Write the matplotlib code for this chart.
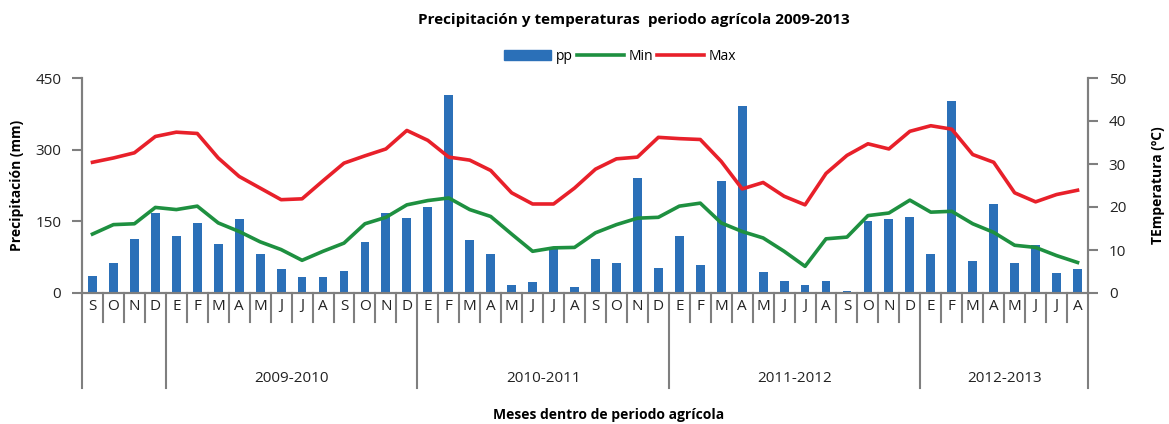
import matplotlib.pyplot as plt
from matplotlib.patches import Rectangle
from matplotlib.lines import Line2D
import matplotlib.transforms as mtransforms
import numpy as np

# meses del periodo agricola (sep 2009 - ago 2013)
months = ['S', 'O', 'N', 'D',
          'E', 'F', 'M', 'A', 'M', 'J', 'J', 'A', 'S', 'O', 'N', 'D',
          'E', 'F', 'M', 'A', 'M', 'J', 'J', 'A', 'S', 'O', 'N', 'D',
          'E', 'F', 'M', 'A', 'M', 'J', 'J', 'A', 'S', 'O', 'N', 'D',
          'E', 'F', 'M', 'A', 'M', 'J', 'J', 'A']
year_labels = ['2009-2010', '2010-2011', '2011-2012', '2012-2013']
year_bounds = [0, 4, 16, 28, 40, 48]

pp = [35, 63, 114, 167, 119, 147, 103, 154, 82, 50, 34, 34,
      47, 106, 167, 157, 179, 414, 111, 82, 17, 23, 93, 12,
      71, 63, 241, 52, 120, 58, 235, 391, 45, 26, 17, 26,
      5, 151, 154, 160, 82, 401, 68, 186, 63, 101, 42, 50]
t_min = [13.7, 15.9, 16.1, 19.9, 19.4, 20.2, 16.3, 14.3, 11.9, 10.1, 7.6, 9.7,
         11.6, 16.1, 17.6, 20.5, 21.5, 22.1, 19.4, 17.8, 13.7, 9.7, 10.5, 10.6,
         14.0, 15.9, 17.4, 17.6, 20.2, 20.9, 16.3, 14.3, 12.8, 9.7, 6.2, 12.6,
         13.0, 18.0, 18.6, 21.6, 18.8, 19.0, 16.1, 14.1, 11.1, 10.6, 8.7, 7.1]
t_max = [30.4, 31.4, 32.6, 36.4, 37.4, 37.1, 31.4, 27.1, 24.4, 21.7, 21.9, 26.1,
         30.2, 31.9, 33.5, 37.8, 35.5, 31.6, 30.9, 28.5, 23.3, 20.7, 20.7, 24.4,
         28.8, 31.2, 31.6, 36.2, 35.9, 35.7, 30.6, 24.2, 25.7, 22.5, 20.5, 27.8,
         32.0, 34.7, 33.5, 37.6, 38.9, 38.1, 32.2, 30.4, 23.3, 21.2, 22.9, 23.9]

c_pp = '#2B70B8'
c_min = '#1E9040'
c_max = '#E8202A'
c_axis = '#7F7F7F'

plt.rcParams['font.family'] = ['Open Sans', 'DejaVu Sans']

W, H = 1169, 424
fig = plt.figure(figsize=(W / 100, H / 100), dpi=100)
left, right, top, bottom = 82, 1088, 78, 293
ax = fig.add_axes([left / W, 1 - bottom / H, (right - left) / W, (bottom - top) / H])
ax2 = ax.twinx()

x = np.arange(len(months))
ax.bar(x, pp, width=0.42, color=c_pp, zorder=2)
ax2.plot(x, t_min, color=c_min, lw=2.6, solid_joinstyle='round')
ax2.plot(x, t_max, color=c_max, lw=2.6, solid_joinstyle='round')

ax.set_xlim(-0.5, len(months) - 0.5)
ax.set_ylim(0, 450)
ax.set_yticks([0, 150, 300, 450])
ax2.set_ylim(0, 50)
ax2.set_yticks([0, 10, 20, 30, 40, 50])
ax.set_xticks([])

for a in (ax, ax2):
    a.spines['top'].set_visible(False)
    for s in ('left', 'right', 'bottom'):
        a.spines[s].set_color(c_axis)
        a.spines[s].set_linewidth(1.5)
    a.tick_params(axis='y', colors=c_axis, width=1.5, length=7, labelsize=11,
                  labelcolor='#222222', pad=8)

ax.set_ylabel('Precipitación (mm)', fontsize=10, fontweight='bold', labelpad=8)
ax2.set_ylabel('TEmperatura (ºC)', fontsize=10, fontweight='bold', labelpad=18,
               rotation=90)

# separadores y etiquetas de meses / años
trans = mtransforms.blended_transform_factory(ax.transData, ax.transAxes)
month_drop = -(322 - bottom) / (bottom - top)
year_drop = -(388 - bottom) / (bottom - top)
for k in range(len(months) + 1):
    y_end = year_drop if k in year_bounds else month_drop
    ax.add_line(Line2D([k - 0.5, k - 0.5], [0, y_end], transform=trans,
                       color=c_axis, lw=1.5, clip_on=False))
for i, m in enumerate(months):
    ax.text(i, -(306 - bottom) / (bottom - top), m, transform=trans,
            ha='center', va='center', fontsize=11, color='#222222')
for j, lab in enumerate(year_labels):
    xc = (year_bounds[j + 1] + year_bounds[j + 2]) / 2 - 0.5
    ax.text(xc, -(379 - bottom) / (bottom - top), lab, transform=trans,
            ha='center', va='center', fontsize=11, color='#222222')

fig.text(0.5 * (left + right) / W + 0.02, 1 - 415 / H, 'Meses dentro de periodo agrícola',
         ha='center', va='center', fontsize=10, fontweight='bold')
fig.text(634 / W, 1 - 20 / H, 'Precipitación y temperaturas  periodo agrícola 2009-2013',
         ha='center', va='center', fontsize=11, fontweight='bold')

handles = [Rectangle((0, 0), 1, 1, color=c_pp),
           Line2D([], [], color=c_min, lw=2.6),
           Line2D([], [], color=c_max, lw=2.6)]
fig.legend(handles, ['pp', 'Min', 'Max'], loc='center', ncol=3,
           bbox_to_anchor=(620 / W, 1 - 56 / H), frameon=False, fontsize=10,
           handlelength=3.4, handletextpad=0.3, columnspacing=0.3)

fig.savefig('out.png', dpi=100)
